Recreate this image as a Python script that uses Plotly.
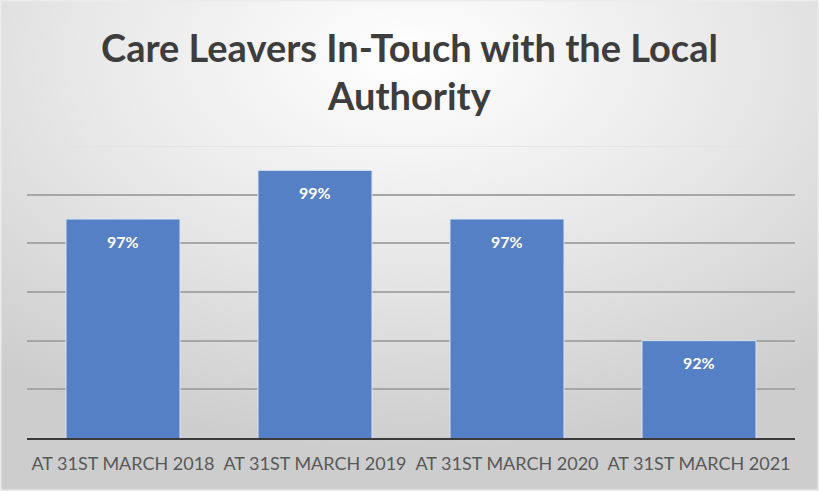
import base64
import plotly.graph_objects as go

# Data
categories = ["AT 31ST MARCH 2018", "AT 31ST MARCH 2019", "AT 31ST MARCH 2020", "AT 31ST MARCH 2021"]
values = [97, 99, 97, 92]
title_lines = ["Care Leavers In-Touch with the Local", "Authority"]

W, H = 819, 491
ML, MR, MT, MB = 27, 24, 146, 53
PW, PH = W - ML - MR, H - MT - MB

# Soft radial grey background
svg = f"""<svg xmlns='http://www.w3.org/2000/svg' width='{W}' height='{H}' preserveAspectRatio='none'>
<defs><radialGradient id='g' cx='0.5' cy='0.12' r='0.8'>
<stop offset='0' stop-color='#ffffff'/>
<stop offset='0.5' stop-color='#e8e8e8'/>
<stop offset='1' stop-color='#cdcdcd'/>
</radialGradient></defs>
<rect width='{W}' height='{H}' fill='url(#g)'/>
<rect x='0.5' y='0.5' width='{W-1}' height='{H-1}' fill='none' stroke='#ececec' stroke-width='2'/>
</svg>"""
bg_uri = "data:image/svg+xml;base64," + base64.b64encode(svg.encode()).decode()

fig = go.Figure()
fig.add_trace(go.Bar(
    x=categories, y=values,
    marker=dict(color="#5580C6", line=dict(color="#dfe8f5", width=1)),
    width=0.594,
    hoverinfo="skip",
))

# value labels just inside the top of each bar
for c, v in zip(categories, values):
    fig.add_annotation(x=c, y=v, text=f"{v}%", showarrow=False,
                       yanchor="middle", yshift=-22,
                       font=dict(family="Lato", size=16, color="white", weight="bold"))

# two-line chart title
for line, cy in zip(title_lines, [47, 95]):
    fig.add_annotation(xref="paper", yref="paper", x=(W / 2 - ML) / PW, y=1 + (MT - cy) / PH,
                       text=line, showarrow=False, xanchor="center", yanchor="middle",
                       font=dict(family="Lato", size=38, color="#3d3d3d", weight="bold"))

# faint top gridline at the upper end of the value range
fig.add_shape(type="line", xref="paper", yref="y", x0=0, x1=1, y0=100, y1=100,
              line=dict(color="#e2e2e2", width=1.5), layer="below")

fig.update_layout(
    width=W, height=H,
    margin=dict(l=ML, r=MR, t=MT, b=MB),
    paper_bgcolor="#e0e0e0",
    plot_bgcolor="rgba(0,0,0,0)",
    images=[dict(source=bg_uri, xref="paper", yref="paper",
                 x=-ML / PW, y=1 + MT / PH, sizex=W / PW, sizey=H / PH,
                 xanchor="left", yanchor="top", layer="below", sizing="stretch")],
    showlegend=False,
)

fig.update_xaxes(showgrid=False, showline=True, linecolor="#3a3a3a", linewidth=2,
                 tickfont=dict(family="Lato", size=18, color="#595959"), ticks="",
                 ticklabelstandoff=8)
fig.update_yaxes(range=[88, 100], dtick=2, showgrid=True, gridcolor="#a6a6a6", gridwidth=1.5,
                 showticklabels=False, zeroline=False, showline=False)

fig.write_html("out.html")
